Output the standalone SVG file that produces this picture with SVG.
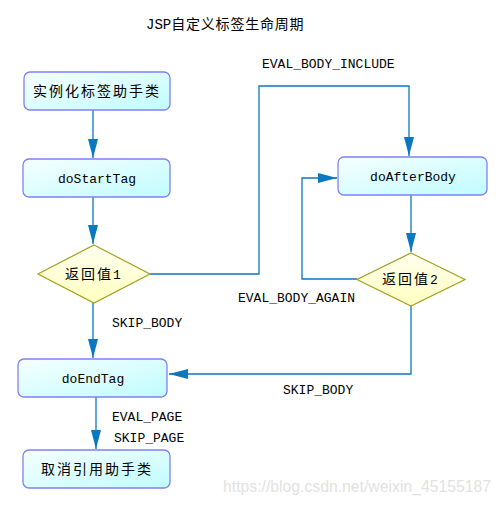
<svg xmlns="http://www.w3.org/2000/svg" width="504" height="505" viewBox="0 0 504 505">
<defs>
<linearGradient id="gBox" x1="0" y1="0" x2="1" y2="1">
<stop offset="0" stop-color="#F6FFFF"/>
<stop offset="1" stop-color="#C0FCFF"/>
</linearGradient>
<linearGradient id="gDia" x1="0" y1="0" x2="0" y2="1">
<stop offset="0" stop-color="#FFFFF0"/>
<stop offset="1" stop-color="#FFFFC0"/>
</linearGradient>
<marker id="arr" markerUnits="userSpaceOnUse" markerWidth="20" markerHeight="12" viewBox="0 0 20 12" refX="19" refY="6" orient="auto">
<path d="M0,1 L19,6 L0,11 z" fill="#0A78BE"/>
</marker>
<style>
.box{fill:url(#gBox);stroke:#8080F8;stroke-width:1.3}
.dia{fill:url(#gDia);stroke:#A0A020;stroke-width:1.2}
.con{fill:none;stroke:#0A78BE;stroke-width:1.3;marker-end:url(#arr)}
.t{font-family:"Liberation Mono","Noto Sans CJK SC",monospace;font-size:13px;fill:#000}
.c{font-family:"Noto Sans CJK SC",sans-serif;font-size:14px;letter-spacing:2px;fill:#000}
.m{text-anchor:middle}
</style>
</defs>
<text x="146" y="29" class="t" style="font-size:14px">JSP<tspan font-family="Noto Sans CJK SC, sans-serif" letter-spacing="0.8">自定义标签生命周期</tspan></text>
<g id="connectors">
<path class="con" d="M93,110 V158"/>
<path class="con" d="M93,197 V244"/>
<path class="con" d="M150,274 H259 V86 H409 V156"/>
<path class="con" d="M411,195 V252"/>
<path class="con" d="M357,279 H302 V178 H337"/>
<path class="con" d="M411,306 V374 H169"/>
<path class="con" d="M93,303 V358"/>
<path class="con" d="M96,397 V449"/>
<text x="262" y="68" class="t">EVAL_BODY_INCLUDE</text>
<text x="238" y="302" class="t">EVAL_BODY_AGAIN</text>
<text x="112" y="327" class="t">SKIP_BODY</text>
<text x="283" y="394" class="t">SKIP_BODY</text>
<text x="112" y="421" class="t">EVAL_PAGE</text>
<text x="114" y="442" class="t">SKIP_PAGE</text>
</g>
<g id="n1">
<rect class="box" x="24" y="72" width="146" height="38" rx="6"/>
<text x="97" y="96" class="c m">实例化标签助手类</text>
</g>
<g id="n2">
<rect class="box" x="23" y="159" width="147" height="38" rx="6"/>
<text x="97" y="183" class="t m">doStartTag</text>
</g>
<g id="d1">
<polygon class="dia" points="94,245 150,274 94,303 38,274"/>
<text x="93" y="279" class="t m"><tspan font-family="Noto Sans CJK SC, sans-serif" font-size="14" letter-spacing="2">返回值</tspan>1</text>
</g>
<g id="n3">
<rect class="box" x="338" y="157" width="149" height="38" rx="6"/>
<text x="413" y="181" class="t m">doAfterBody</text>
</g>
<g id="d2">
<polygon class="dia" points="411,253 465,279.5 411,306 357,279.5"/>
<text x="410" y="284" class="t m"><tspan font-family="Noto Sans CJK SC, sans-serif" font-size="14" letter-spacing="2">返回值</tspan>2</text>
</g>
<g id="n4">
<rect class="box" x="18" y="359" width="149" height="38" rx="6"/>
<text x="93" y="383" class="t m">doEndTag</text>
</g>
<g id="n5">
<rect class="box" x="23" y="450" width="147" height="38" rx="6"/>
<text x="97" y="474" class="c m">取消引用助手类</text>
</g>
<text x="223" y="492" textLength="268" lengthAdjust="spacingAndGlyphs" style="font-family:'Liberation Sans',sans-serif;font-size:16px;fill:#E2E2E2">https://blog.csdn.net/weixin_45155187</text>
</svg>
